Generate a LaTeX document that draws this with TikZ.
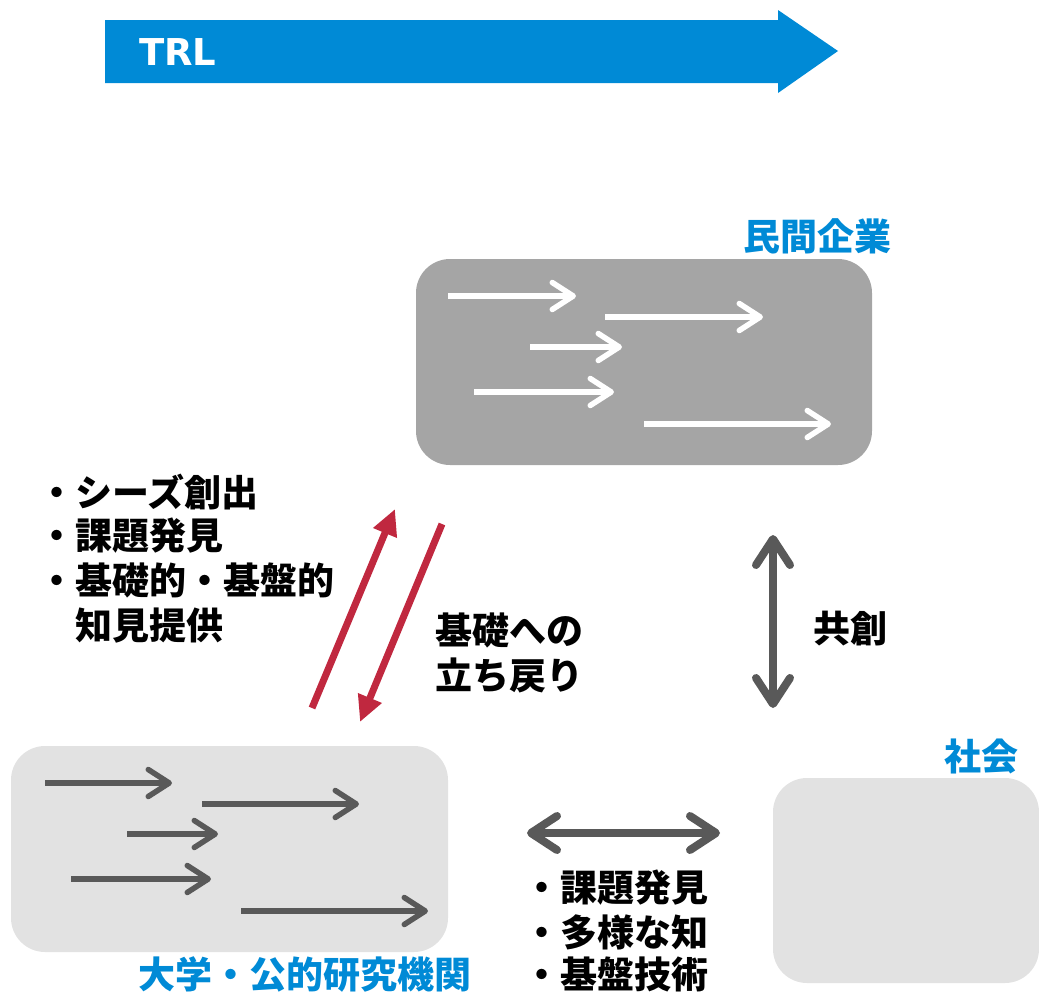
\documentclass[tikz,border=0pt]{standalone}
\usepackage{fontspec}
\newfontfamily\jp{Noto Sans CJK JP}
\newfontfamily\lat{DejaVu Sans}
\usetikzlibrary{arrows.meta}
\definecolor{trlblue}{HTML}{008AD6}
\definecolor{boxdark}{HTML}{A5A5A5}
\definecolor{boxlight}{HTML}{E2E2E2}
\definecolor{arrgray}{HTML}{595959}
\definecolor{arrred}{HTML}{C0283F}
\tikzset{
  panel/.style={rounded corners=34pt, draw=none, inner sep=0pt},
  jtext/.style={font=\jp\bfseries\fontsize{37}{44}\selectfont, inner sep=0pt, anchor=base west},
  blabel/.style={font=\jp\bfseries\fontsize{37}{44}\selectfont, inner sep=0pt, anchor=base, text=trlblue},
  flow/.style={line width=5.5pt, -{Straight Barb[length=21pt, width=27pt, round]}},
  duo/.style={line width=8pt, arrgray, {Straight Barb[length=26pt, width=34pt, round]}-{Straight Barb[length=26pt, width=34pt, round]}},
  redarr/.style={line width=7pt, arrred, -{Triangle[length=26pt, width=24pt]}}
}
\begin{document}
\begin{tikzpicture}[x=1pt,y=-1pt]
\useasboundingbox (0,0) rectangle (1039,994);
% TRL arrow
\fill[trlblue] (105,20) -- (778,20) -- (778,10) -- (838,51) -- (778,93) -- (778,83) -- (105,83) -- cycle;
\node[font=\lat\bfseries\fontsize{37}{44}\selectfont, text=white, inner sep=0pt, anchor=base west] (trl) at (139,65) {TRL};

% panels
\node[panel, fill=boxdark, minimum width=456pt, minimum height=206pt] (corp) at (644,362) {};
\node[panel, fill=boxlight, minimum width=437pt, minimum height=206pt] (univ) at (229.5,849) {};
\node[panel, fill=boxlight, minimum width=266pt, minimum height=205pt] (soc) at (906,880.5) {};

% labels
\node[blabel] (corplbl) at (817,250) {民間企業};
\node[blabel] (soclbl) at (981,770) {社会};
\node[blabel] (univlbl) at (305,988) {大学・公的研究機関};

% arrows inside corporate panel
\draw[flow, white] (448,296) -- (576,296);
\draw[flow, white] (605,317) -- (763,317);
\draw[flow, white] (530,347) -- (622,347);
\draw[flow, white] (474,392) -- (614,392);
\draw[flow, white] (644,424) -- (831,424);

% arrows inside university panel
\draw[flow, arrgray] (45,783) -- (172,783);
\draw[flow, arrgray] (202,804) -- (359,804);
\draw[flow, arrgray] (127,834) -- (218,834);
\draw[flow, arrgray] (71,879) -- (211,879);
\draw[flow, arrgray] (241,911) -- (428,911);

% red arrows between university and corporate
\coordinate (r1s) at (312,708);
\coordinate (r1e) at (395,509);
\coordinate (r2s) at (442,524);
\coordinate (r2e) at (360,722);
\draw[redarr] (r1s) -- (r1e);
\draw[redarr] (r2s) -- (r2e);

% co-creation arrow
\coordinate (v1) at (773,535);
\coordinate (v2) at (773,708);
\draw[duo] (v1) -- (v2);

% university - society arrow
\coordinate (h1) at (527,833);
\coordinate (h2) at (720,833);
\draw[duo] (h1) -- (h2);

% left list
\node[jtext] (l1) at (38,506) {・シーズ創出};
\node[jtext] (l2) at (38,549) {・課題発見};
\node[jtext] (l3) at (38,594) {・基礎的・基盤的};
\node[jtext] (l4) at (38,639) {　知見提供};

% middle text
\node[jtext] (m1) at (435,644) {基礎への};
\node[jtext] (m2) at (435,689) {立ち戻り};

% co-creation text
\node[jtext] (k1) at (813,642) {共創};

% bottom list
\node[jtext] (b1) at (523,901) {・課題発見};
\node[jtext] (b2) at (523,946) {・多様な知};
\node[jtext] (b3) at (523,988) {・基盤技術};
\end{tikzpicture}
\end{document}
